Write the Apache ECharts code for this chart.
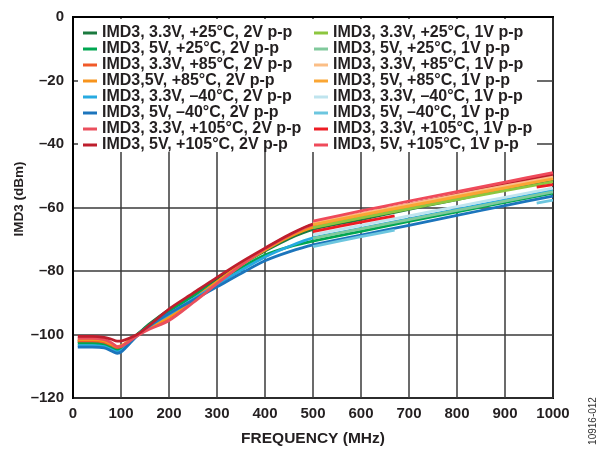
<!DOCTYPE html>
<html>
<head>
<meta charset="utf-8">
<script src="https://cdn.jsdelivr.net/npm/echarts@6/dist/echarts.min.js"></script>
<style>
  html, body { margin: 0; padding: 0; background: #fff; }
  #chart { width: 598px; height: 452px; }
</style>
</head>
<body>
<div id="chart"></div>
<script>
// Axis ticks
const X_TICKS = [0, 100, 200, 300, 400, 500, 600, 700, 800, 900, 1000];
const Y_TICKS = [-120, -100, -80, -60, -40, -20, 0];

// Frequencies (MHz) for the 2V p-p sweeps
const FREQ_2V = [10, 40, 65, 80, 92, 102, 117, 135, 160, 200, 250, 300, 350, 400, 450, 500, 600, 700, 800, 900, 1000];
// Frequencies (MHz) for the 1V p-p sweeps
const FREQ_1V = [500, 600, 700, 800, 900, 1000];
const FREQ_1V_SPLIT = [500, 600, 670, 800, 966, 1000];

// IMD3 (dBm), 2V p-p
const imd3_33V_25C_2V  = [-102.2, -102.2, -102.6, -103.6, -104.3, -103.7, -102.0, -99.8, -96.6, -92.2, -87.3, -82.6, -78.0, -73.7, -69.8, -66.9, -63.8, -60.6, -57.5, -54.3, -51.2];
const imd3_5V_25C_2V   = [-102.8, -102.8, -103.2, -104.2, -104.9, -104.3, -102.3, -99.9, -96.8, -92.6, -88.0, -83.4, -79.0, -75.0, -72.4, -70.6, -67.5, -64.4, -61.4, -58.4, -55.5];
const imd3_33V_85C_2V  = [-102.0, -102.0, -102.4, -103.3, -104.1, -103.7, -102.1, -100.1, -97.8, -94.8, -89.2, -83.4, -78.0, -73.1, -68.9, -65.8, -62.7, -59.6, -56.5, -53.4, -50.2];
const imd3_5V_85C_2V   = [-101.6, -101.6, -102.0, -103.0, -103.8, -103.4, -101.9, -100.0, -97.6, -94.4, -89.0, -83.4, -78.1, -73.4, -69.3, -66.3, -63.2, -60.1, -57.0, -53.9, -50.8];
const imd3_33V_m40C_2V = [-103.5, -103.5, -103.8, -104.8, -105.5, -104.9, -102.8, -100.1, -97.2, -93.6, -88.9, -84.3, -79.8, -75.6, -72.3, -69.6, -66.6, -63.6, -60.6, -57.6, -54.6];
const imd3_5V_m40C_2V  = [-104.0, -104.0, -104.2, -105.2, -105.9, -105.3, -103.0, -100.2, -97.2, -93.4, -89.2, -85.0, -80.8, -76.8, -74.0, -71.8, -68.7, -65.6, -62.5, -59.4, -56.4];
const imd3_33V_105C_2V = [-101.2, -101.2, -101.6, -102.6, -103.8, -103.6, -102.2, -100.3, -98.3, -95.6, -90.0, -84.0, -78.2, -73.0, -68.8, -65.4, -62.2, -59.0, -55.8, -52.5, -49.3];
const imd3_5V_105C_2V  = [-100.6, -100.6, -100.9, -101.5, -102.1, -102.0, -101.2, -99.9, -97.0, -92.0, -87.0, -82.0, -77.2, -72.8, -68.6, -65.2, -62.2, -59.1, -56.0, -52.9, -49.8];

// IMD3 (dBm), 1V p-p
const imd3_33V_25C_1V  = [-66.3, -63.3, -60.4, -57.5, -54.7, -51.9];
const imd3_5V_25C_1V   = [-69.7, -66.7, -63.8, -60.9, -58.0, -55.1];
const imd3_33V_85C_1V  = [-64.9, -61.9, -59.0, -56.1, -53.2, -50.4];
const imd3_5V_85C_1V   = [-65.4, -62.4, -59.5, -56.6, -53.8, -51.0];
const imd3_33V_m40C_1V = [-68.6, -65.6, -62.6, -59.7, -56.8, -53.9];
const imd3_5V_m40C_1V  = [-72.3, -69.2, -67.1, null, -58.6, -57.7];
const imd3_33V_105C_1V = [-67.6, -64.6, -62.6, null, -53.6, -52.8];
const imd3_5V_105C_1V  = [-64.3, -61.1, -58.0, -55.0, -52.0, -49.0];

const SERIES = [
  { name: 'IMD3, 3.3V, +25°C, 2V p-p',   freq: FREQ_2V, values: imd3_33V_25C_2V,  color: '#1B7A3F' },
  { name: 'IMD3, 5V, +25°C, 2V p-p',     freq: FREQ_2V, values: imd3_5V_25C_2V,   color: '#00A651' },
  { name: 'IMD3, 3.3V, +85°C, 2V p-p',   freq: FREQ_2V, values: imd3_33V_85C_2V,  color: '#F15A29' },
  { name: 'IMD3,5V, +85°C, 2V p-p',      freq: FREQ_2V, values: imd3_5V_85C_2V,   color: '#F7941D' },
  { name: 'IMD3, 3.3V, –40°C, 2V p-p',   freq: FREQ_2V, values: imd3_33V_m40C_2V, color: '#27AAE1' },
  { name: 'IMD3, 5V, –40°C, 2V p-p',     freq: FREQ_2V, values: imd3_5V_m40C_2V,  color: '#1C75BC' },
  { name: 'IMD3, 3.3V, +105°C, 2V p-p',  freq: FREQ_2V, values: imd3_33V_105C_2V, color: '#EA4F5D' },
  { name: 'IMD3, 5V, +105°C, 2V p-p',    freq: FREQ_2V, values: imd3_5V_105C_2V,  color: '#BE1E2D' },
  { name: 'IMD3, 3.3V, +25°C, 1V p-p',   freq: FREQ_1V, values: imd3_33V_25C_1V,  color: '#8DC63F' },
  { name: 'IMD3, 5V, +25°C, 1V p-p',     freq: FREQ_1V, values: imd3_5V_25C_1V,   color: '#80C99C' },
  { name: 'IMD3, 3.3V, +85°C, 1V p-p',   freq: FREQ_1V, values: imd3_33V_85C_1V,  color: '#FBBE86' },
  { name: 'IMD3, 5V, +85°C, 1V p-p',     freq: FREQ_1V, values: imd3_5V_85C_1V,   color: '#FAA634' },
  { name: 'IMD3, 3.3V, –40°C, 1V p-p',   freq: FREQ_1V, values: imd3_33V_m40C_1V, color: '#BFE4EE' },
  { name: 'IMD3, 5V, –40°C, 1V p-p',     freq: FREQ_1V_SPLIT, values: imd3_5V_m40C_1V,  color: '#6CC6DF' },
  { name: 'IMD3, 3.3V, +105°C, 1V p-p',  freq: FREQ_1V_SPLIT, values: imd3_33V_105C_1V, color: '#ED1C24' },
  { name: 'IMD3, 5V, +105°C, 1V p-p',    freq: FREQ_1V, values: imd3_5V_105C_1V,  color: '#EF4A5A' }
];

const FONT = '"Liberation Sans", Arial, sans-serif';
const INK = '#231F20';
const dash = v => (v < 0 ? '\u2013' + Math.abs(v) : String(v));

const chart = echarts.init(document.getElementById('chart'), null, { renderer: 'canvas' });

const series = SERIES.map(s => ({
  name: s.name,
  type: 'line',
  data: s.freq.map((f, i) => [f, s.values[i] === null ? '-' : s.values[i]]),
  showSymbol: false,
  symbol: 'none',
  smooth: 0.3,
  connectNulls: false,
  color: s.color,
  lineStyle: { color: s.color, width: 2.8, cap: 'butt', join: 'round' },
  emphasis: { disabled: true },
  animation: false
}));

const legendBase = {
  orient: 'vertical',
  padding: 0,
  itemGap: 0,
  itemWidth: 14,
  itemHeight: 3,
  icon: 'rect',
  selectedMode: false,
  textStyle: { fontFamily: FONT, fontWeight: 'bold', fontSize: 16, color: INK, lineHeight: 16 }
};

chart.setOption({
  backgroundColor: '#fff',
  animation: false,
  grid: {
    left: 73, right: 45, top: 17, bottom: 51,
    show: true, borderColor: '#000', borderWidth: 2, backgroundColor: 'transparent'
  },
  xAxis: {
    type: 'value',
    min: X_TICKS[0], max: X_TICKS[X_TICKS.length - 1], interval: X_TICKS[1] - X_TICKS[0],
    name: 'FREQUENCY (MHz)', nameLocation: 'middle', nameGap: 33,
    nameTextStyle: { fontFamily: FONT, fontWeight: 'bold', fontSize: 15.5, color: INK },
    axisLine: { show: true, lineStyle: { color: '#000', width: 2 } },
    axisTick: { show: false },
    axisLabel: { fontFamily: FONT, fontWeight: 'bold', fontSize: 15, color: INK, margin: 8, formatter: v => String(v) },
    splitLine: { show: true, lineStyle: { color: '#3a3a3a', width: 1.5 } }
  },
  yAxis: {
    type: 'value',
    min: Y_TICKS[0], max: Y_TICKS[Y_TICKS.length - 1], interval: Y_TICKS[1] - Y_TICKS[0],
    axisLine: { show: true, lineStyle: { color: '#000', width: 2 } },
    axisTick: { show: false },
    axisLabel: { fontFamily: FONT, fontWeight: 'bold', fontSize: 15, color: INK, margin: 9, formatter: dash },
    splitLine: { show: true, lineStyle: { color: '#3a3a3a', width: 1.5 } }
  },
  legend: [
    Object.assign({}, legendBase, { left: 83, top: 25, data: SERIES.slice(0, 8).map(s => s.name) }),
    Object.assign({}, legendBase, { left: 314, top: 25, data: SERIES.slice(8).map(s => s.name) })
  ],
  graphic: [
    {
      type: 'rect', z: 1, silent: true,
      shape: { x: 78, y: 19, width: 459, height: 133 },
      style: { fill: '#fff' }
    },
    {
      // y-axis title
      type: 'text', z: 10, silent: true,
      x: 19, y: 199, rotation: Math.PI / 2,
      style: { text: 'IMD3 (dBm)', fontFamily: FONT, fontWeight: 'bold', fontSize: 13.5, fill: INK, align: 'center', verticalAlign: 'middle' }
    },
    {
      type: 'text', z: 10, silent: true,
      x: 593, y: 421, rotation: Math.PI / 2,
      style: { text: '10916-012', fontFamily: FONT, fontSize: 10, fill: '#333', align: 'center', verticalAlign: 'middle' }
    }
  ],
  series: series
});
</script>
</body>
</html>
